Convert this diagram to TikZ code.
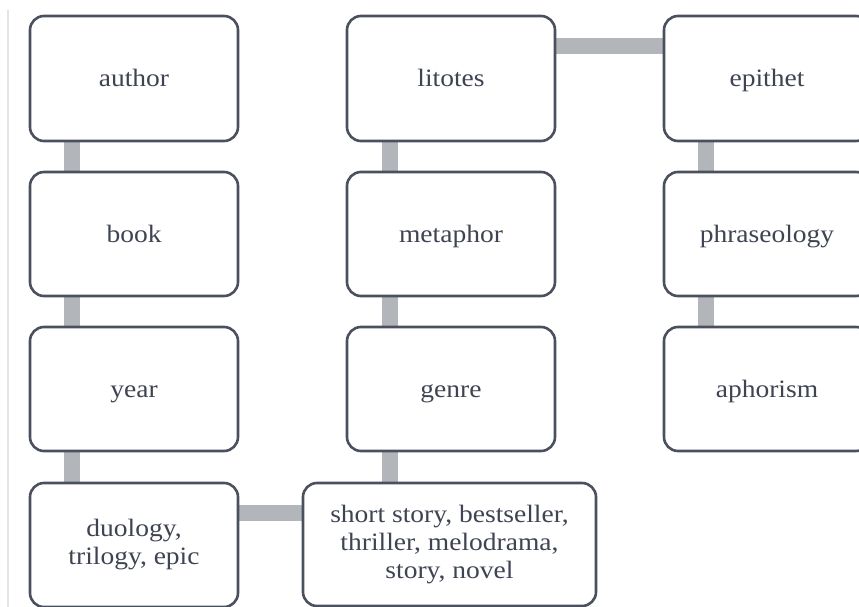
\documentclass[tikz,border=0pt]{standalone}
\usepackage{fontspec}
\setmainfont{Liberation Serif}[FakeStretch=1.1]
\usetikzlibrary{backgrounds}
\definecolor{boxline}{HTML}{4A505E}
\definecolor{txt}{HTML}{3E4452}
\definecolor{conncol}{HTML}{B2B5B9}
\definecolor{edge}{HTML}{E4E4E4}
\tikzset{
  box/.style={draw=boxline, line width=2.6pt, rounded corners=14pt, fill=white,
    inner sep=0pt, align=center, text=txt,
    font=\fontsize{25}{28}\selectfont},
  single/.style={box, text height=19pt, text depth=2pt},
  conn/.style={draw=conncol, line width=16pt},
}
\begin{document}
\begin{tikzpicture}[x=1pt,y=-1pt]
\useasboundingbox (0,0) rectangle (859,607);
\clip (0,0) rectangle (859,607);
\draw[edge, line width=1.5pt] (8,10) -- (8,607);
% column x coordinates for connectors
\coordinate (x1) at (71.5,0);
\coordinate (x2) at (389.5,0);
\coordinate (x3) at (706,0);
\coordinate (y1) at (0,46.5);
\coordinate (y4) at (0,512.5);
% nodes
\node[single, minimum width=208pt, minimum height=125pt] (author) at (134,78.5) {author};
\node[single, minimum width=208pt, minimum height=124pt] (book) at (134,234) {book};
\node[single, minimum width=208pt, minimum height=124pt] (year) at (134,389) {year};
\node[box, minimum width=208pt, minimum height=124pt] (duo) at (134,545) {duology,\\trilogy, epic};
\node[single, minimum width=208pt, minimum height=125pt] (litotes) at (451,78.5) {litotes};
\node[single, minimum width=208pt, minimum height=124pt] (metaphor) at (451,234) {metaphor};
\node[single, minimum width=208pt, minimum height=124pt] (genre) at (451,389) {genre};
\node[box, minimum width=293pt, minimum height=123pt] (short) at (449.5,544.5) {short story, bestseller,\\thriller, melodrama,\\story, novel};
\node[single, minimum width=206pt, minimum height=125pt] (epithet) at (767,78.5) {epithet};
\node[single, minimum width=206pt, minimum height=124pt] (phras) at (767,234) {phraseology};
\node[single, minimum width=206pt, minimum height=124pt] (aphor) at (767,389) {aphorism};
% connectors
\begin{scope}[on background layer]
\draw[conn] (author.south -| x1) -- (book.north -| x1);
\draw[conn] (book.south -| x1) -- (year.north -| x1);
\draw[conn] (year.south -| x1) -- (duo.north -| x1);
\draw[conn] (litotes.south -| x2) -- (metaphor.north -| x2);
\draw[conn] (metaphor.south -| x2) -- (genre.north -| x2);
\draw[conn] (genre.south -| x2) -- (short.north -| x2);
\draw[conn] (epithet.south -| x3) -- (phras.north -| x3);
\draw[conn] (phras.south -| x3) -- (aphor.north -| x3);
\draw[conn] (litotes.east |- y1) -- (epithet.west |- y1);
\draw[conn] (duo.east |- y4) -- (short.west |- y4);
\end{scope}
\end{tikzpicture}
\end{document}
